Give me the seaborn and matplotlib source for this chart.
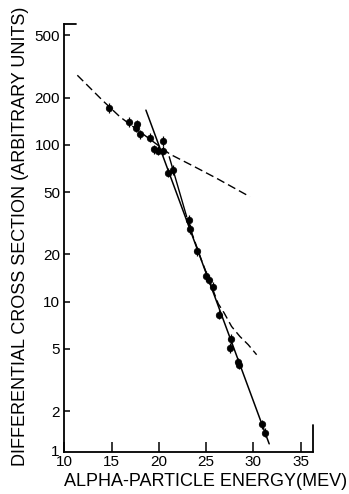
import numpy as np
import pandas as pd
import matplotlib
matplotlib.use("Agg")
import matplotlib.pyplot as plt
import seaborn as sns

# ---- data ----
pt_energy = [14.75, 16.87, 17.71, 17.58, 18.00, 19.06, 20.47, 19.48, 19.94, 20.40,
             21.00, 21.52, 23.15, 23.29, 24.00, 24.98, 25.33, 25.69, 26.39, 27.60,
             27.52, 28.34, 28.51, 30.88, 31.26]
pt_sigma = [172, 140, 135, 128.5, 117, 111, 106, 93.6, 91.7, 91.7,
            66.4, 69.1, 33.2, 29.1, 20.9, 14.6, 13.8, 12.4, 8.26, 5.78,
            5.07, 4.10, 3.97, 1.65, 1.46]

dashA_energy = [11.37, 14.12, 15.88, 21.17, 23.64, 26.12, 29.64]
dashA_sigma = [278, 190, 151, 87.3, 73.3, 61.2, 46.7]

line_energy = [18.63, 31.68]
line_sigma = [166.6, 1.24]

branch_energy = [21.10, 22.94]
branch_sigma = [84.0, 34.9]

dashB_energy = [22.94, 24.50, 26.29, 26.92, 27.70, 28.58, 29.46, 30.35]
dashB_sigma = [34.0, 18.5, 9.7, 8.46, 6.95, 6.00, 5.32, 4.59]

xticks = [10, 15, 20, 25, 30, 35]
yticks = [2, 5, 10, 20, 50, 100, 200, 500]
ytick_labels = ["2", "5", "10", "20", "50", "100", "200", "500"]

sns.set_theme(style="ticks")
plt.rcParams['font.family'] = ['Liberation Sans', 'DejaVu Sans']

fig = plt.figure(figsize=(3.49, 4.94), dpi=100)
fig.patch.set_facecolor("white")
ax = fig.add_axes([0.1845, 0.085, 0.7132, 0.8664])
ax.set_facecolor("white")

ax.set_yscale("log")
ax.set_xlim(10, 36.35)
ax.set_ylim(1.1, 590)

# curves
sns.lineplot(x=dashA_energy, y=dashA_sigma, ax=ax, color="black", lw=1.0,
             sort=False, estimator=None, linestyle=(0, (6, 3)))
sns.lineplot(x=line_energy, y=line_sigma, ax=ax, color="black", lw=1.1,
             sort=False, estimator=None)
sns.lineplot(x=branch_energy, y=branch_sigma, ax=ax, color="black", lw=1.0,
             sort=False, estimator=None)
sns.lineplot(x=dashB_energy, y=dashB_sigma, ax=ax, color="black", lw=1.0,
             sort=False, estimator=None, linestyle=(0, (6, 3)))

# points with small error crosses
e = np.array(pt_energy)
s = np.array(pt_sigma)
ax.errorbar(e, s, xerr=0.25, yerr=[s - s / 1.07, s * 1.07 - s], fmt="none",
            ecolor="black", elinewidth=0.9, capsize=0)
sns.scatterplot(x=pt_energy, y=pt_sigma, ax=ax, color="black", s=22,
                edgecolor="black", linewidth=0.5, zorder=5)

# axes styling
for side in ["top", "right"]:
    ax.spines[side].set_visible(False)
for side in ["left", "bottom"]:
    ax.spines[side].set_linewidth(1.3)
    ax.spines[side].set_color("black")

ax.set_xticks(xticks)
ax.set_xticklabels([str(t) for t in xticks])
ax.set_yticks(yticks)
ax.set_yticklabels(ytick_labels)
ax.yaxis.set_minor_locator(matplotlib.ticker.NullLocator())
ax.tick_params(axis="x", direction="in", length=7, width=1.1, pad=2.5,
               labelsize=11, colors="black")
ax.tick_params(axis="y", direction="in", length=4, width=1.1, pad=3,
               labelsize=11, colors="black")

# axis end marks as in the original drawing
ax.plot([0, 0.048], [1, 1], transform=ax.transAxes, color="black", lw=1.3,
        clip_on=False)
ax.plot([1, 1], [0, 27 / 428], transform=ax.transAxes, color="black", lw=1.3,
        clip_on=False)
ax.text(-0.022, 0.0, "1", transform=ax.transAxes, ha="right", va="center",
        fontsize=11, color="black")

ax.set_xlabel("ALPHA-PARTICLE ENERGY(MEV)", fontsize=13, color="black")
ax.set_ylabel("DIFFERENTIAL CROSS SECTION (ARBITRARY UNITS)", fontsize=13,
              color="black")
ax.xaxis.set_label_coords(0.567, -0.070)
ax.xaxis.label.set_verticalalignment("center")
ax.yaxis.set_label_coords(-0.178, 0.505)
ax.yaxis.label.set_verticalalignment("center")

fig.savefig("out.png", dpi=100, facecolor="white")
